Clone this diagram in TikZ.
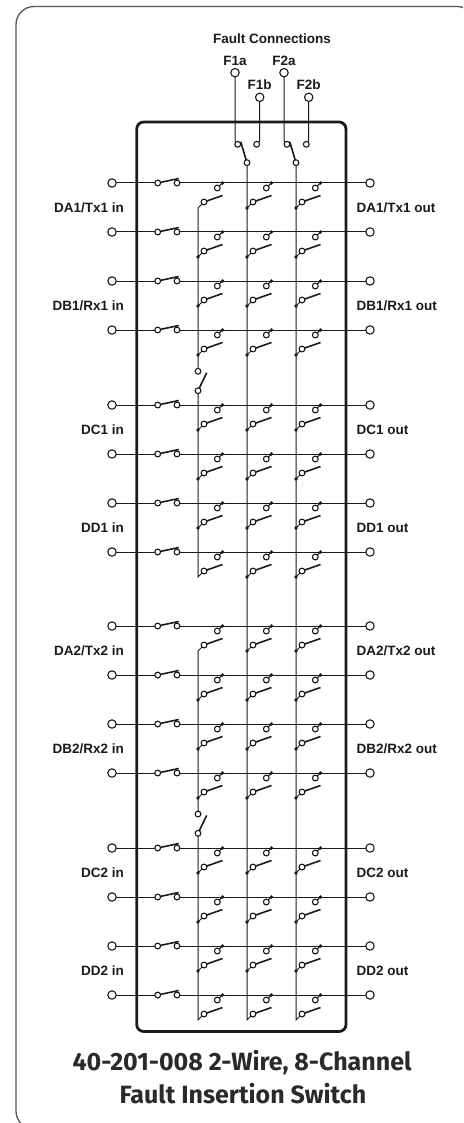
\documentclass[tikz,border=0pt]{standalone}
\usepackage{fontspec}
\setmainfont{Liberation Sans}
\newfontfamily\titlefont{Fira Sans}
\definecolor{wire}{HTML}{1A1A1A}
\definecolor{titlecol}{HTML}{2B2A29}
\definecolor{framecol}{HTML}{555555}
\tikzset{
  px/.style={x=1pt,y=-1pt},
  wireline/.style={draw=wire,line width=1pt},
  blade/.style={draw=wire,line width=1.6pt},
  housing/.style={draw=wire,line width=2.8pt,rounded corners=7pt},
  panel/.style={draw=framecol,line width=1.3pt,rounded corners=18pt},
  term/.style={circle,draw=wire,fill=white,line width=1.1pt,minimum size=8.4pt,inner sep=0pt,outer sep=0pt},
  cont/.style={circle,draw=wire,fill=white,line width=1.1pt,minimum size=5.8pt,inner sep=0pt,outer sep=0pt},
  jointdot/.style={circle,fill=wire,minimum size=3.6pt,inner sep=0pt,outer sep=0pt},
  portlabel/.style={font=\fontsize{13.5}{15}\selectfont\bfseries,text=wire,inner sep=0pt},
  titlelabel/.style={font=\titlefont\fontsize{25}{28}\selectfont\bfseries,text=titlecol,inner sep=0pt}
}
\begin{document}
\begin{tikzpicture}[px]
\useasboundingbox (0,0) rectangle (463,1123);
\begin{scope}
\clip (0,0) rectangle (463,1123);
\draw[panel] (16,1129) rectangle (475,6.5);
\end{scope}
\draw[housing] (136.7,122) rectangle (346,1031.5);
% rows
\foreach \r/\y in {1/183,2/232,3/281,4/330,5/405,6/454,7/503,8/552,
                   9/626,10/675,11/724,12/773,13/848,14/897,15/946,16/995}{
  \coordinate (L\r) at (112,\y);
  \coordinate (R\r) at (370,\y);
  \coordinate (S\r) at (157.7,\y);
  \coordinate (T\r) at (177,\y);
  \draw[wireline] (L\r) -- (S\r);
  \draw[wireline] (T\r) -- (R\r);
  \draw[blade] (S\r) -- (178.7,\y-4.5);
  \node[cont] at (S\r) {};
  \node[cont] at (T\r) {};
  \node[term] at (L\r) {};
  \node[term] at (R\r) {};
}
% column wires
\draw[wireline] (204,202) -- (198,208) -- (198,371);
\draw[wireline] (198,390.7) -- (198,577) -- (204,571);
\draw[wireline] (204,645) -- (198,651) -- (198,814);
\draw[wireline] (198,833.3) -- (198,1020) -- (204,1014);
\draw[wireline] (247,162.7) -- (247,1020) -- (253,1014);
\draw[wireline] (296,162.7) -- (296,1020) -- (302,1014);
% crosspoints
\foreach \y in {183,232,281,330,405,454,503,552,626,675,724,773,848,897,946,995}{
  \foreach \x in {198,247,296}{
    \draw[wireline] (\x+19.3,\y+5) -- (\x+24.5,\y);
    \draw[blade] (\x+6,\y+19) -- (\x+24.5,\y+12.5);
    \node[jointdot] at (\x+24.5,\y) {};
    \node[cont] at (\x+19.3,\y+5) {};
    % joint dot on the column unless this is the column's free end
    \pgfmathtruncatemacro{\nodot}{(\y==995)||(\x==198&&(\y==183||\y==552||\y==626))?1:0}
    \ifnum\nodot=0
      \draw[wireline] (\x,\y+25) -- (\x+6,\y+19);
      \node[jointdot] at (\x,\y+25) {};
    \fi
    \node[cont] at (\x+6,\y+19) {};
  }
}
% group joints in column 1
\foreach \n/\ya/\yb in {a/371.3/390.7,b/814/833.3}{
  \draw[blade] (198,\yb) -- (206.7,\ya+1.4);
  \node[cont] (top\n) at (198,\ya) {};
  \node[cont] (bot\n) at (198,\yb) {};
}
% fault terminals
\node[term] (F1a) at (235,72.7) {};
\node[term] (F1b) at (259.7,97.3) {};
\node[term] (F2a) at (284,72.7) {};
\node[term] (F2b) at (308.7,97.3) {};
\node[cont] (f1ac) at (237.7,144.3) {};
\node[cont] (f1bc) at (256.7,144.3) {};
\node[cont] (f2ac) at (287,144.3) {};
\node[cont] (f2bc) at (306.3,144.3) {};
\node[cont] (f1out) at (247,162.7) {};
\node[cont] (f2out) at (296,162.7) {};
\draw[wireline] (F1a) -- (235,141) -- (f1ac);
\draw[wireline] (F1b) -- (259.7,141) -- (f1bc);
\draw[wireline] (F2a) -- (284,141) -- (f2ac);
\draw[wireline] (F2b) -- (308.7,141) -- (f2bc);
\draw[blade] (f1out) -- (240.7,141.7);
\draw[blade] (f2out) -- (289.7,141.7);
% labels
\node[portlabel] (fc) at (272,39) {Fault Connections};
\node[portlabel] (lf1a) at (235,60.5) {F1a};
\node[portlabel] (lf1b) at (259.7,85) {F1b};
\node[portlabel] (lf2a) at (284,60.5) {F2a};
\node[portlabel] (lf2b) at (308.7,85) {F2b};
\foreach \n/\y in {{DA1/Tx1}/207.5,{DB1/Rx1}/305.5,{DC1}/429.5,{DD1}/528,{DA2/Tx2}/650.5,{DB2/Rx2}/748.5,{DC2}/872.5,{DD2}/970.5}{
  \node[portlabel,anchor=east] at (124,\y) {\n\ in};
  \node[portlabel,anchor=west] at (356.5,\y) {\n\ out};
}
\node[titlelabel] (t1) at (242,1063) {40-201-008 2-Wire, 8-Channel};
\node[titlelabel] (t2) at (243,1094) {Fault Insertion Switch};
\end{tikzpicture}
\end{document}
